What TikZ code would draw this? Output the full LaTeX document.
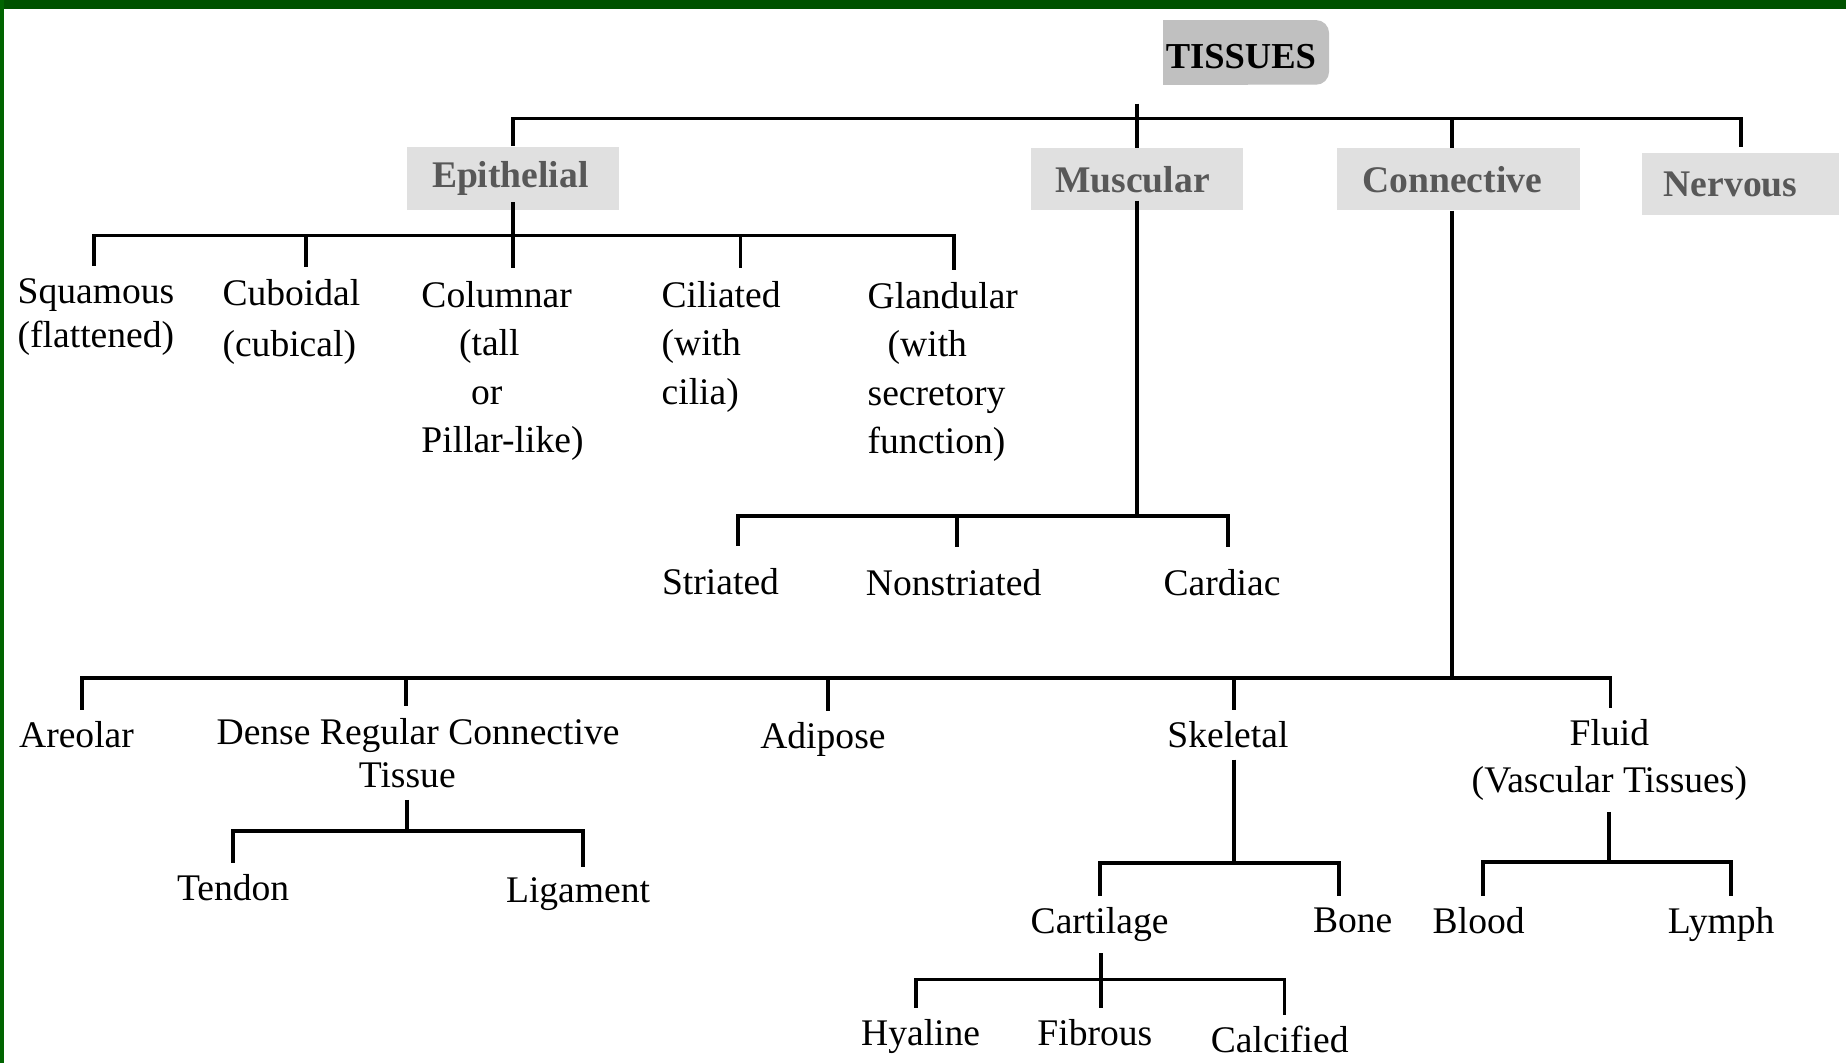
\documentclass[tikz,border=0pt]{standalone}
\usepackage{fontspec}
\setmainfont{Liberation Serif}
\definecolor{topgreen}{RGB}{0,82,0}
\definecolor{leftgreen}{RGB}{0,100,0}
\definecolor{hfill}{RGB}{224,224,224}
\definecolor{tfill}{RGB}{192,192,192}
\definecolor{htext}{RGB}{88,88,88}
\begin{document}
\begin{tikzpicture}[x=0.011773cm,y=-0.011773cm,
  conn/.style={line width=1.1pt, black},
  txt/.style={inner sep=0pt, outer xsep=0pt, outer ysep=3.3pt, text=black,
    font=\fontsize{10.7}{13.8}\selectfont},
  hbox/.style={fill=hfill, inner sep=0pt, text=htext,
    font=\fontsize{10.7}{13}\selectfont\bfseries},
  tisbox/.style={fill=tfill, rounded corners=3.7pt, inner sep=0pt, text=black,
    font=\fontsize{10.4}{12}\selectfont\bfseries}]
\useasboundingbox (0,0) rectangle (1568,903);
\fill[white] (0,0) rectangle (1568,903);
\fill[topgreen] (0,0) rectangle (1568,7.6);
\fill[leftgreen] (0,0) rectangle (3.1,903);

% root
\fill[tfill] (988,17) rectangle (1060,72);
\node[tisbox, minimum width=47.2pt, minimum height=18.4pt, text height=9.3pt, text depth=0pt] (tis) at (1058.5,44.5) {TISSUES\kern3pt};

% header boxes
\node[hbox, minimum width=60.3pt, minimum height=17.9pt] (epi) at (436,151.3) {Epithelial\kern1.7pt};
\node[hbox, minimum width=60.3pt, minimum height=17.6pt] (mus) at (966,152.3) {Muscular\kern2.7pt};
\node[hbox, minimum width=69pt, minimum height=17.6pt] (con) at (1239,152.2) {Connective\kern3.7pt};
\node[hbox, minimum width=55.9pt, minimum height=17.6pt] (ner) at (1478.5,156.3) {Nervous\kern5.7pt};

% epithelial children
\node[txt, outer ysep=3.6pt, anchor=north west, align=left, font=\fontsize{10.7}{12.5}\selectfont] (squ) at (15,226) {Squamous\\(flattened)};
\node[txt, outer ysep=3.6pt, anchor=north west, align=left, font=\fontsize{10.7}{14.3}\selectfont] (cub) at (189,227) {Cuboidal\\(cubical)};
\node[txt, outer ysep=3.6pt, anchor=north west, align=left] (col) at (358,228) {Columnar\\\hspace*{10.7pt}(tall\\\hspace*{14.1pt}or\\Pillar-like)};
\node[txt, outer ysep=3.6pt, anchor=north west, align=left] (cil) at (562,228) {Ciliated\\(with\\cilia)};
\node[txt, outer ysep=3.6pt, anchor=north west, align=left] (gla) at (737,229) {Glandular\\\hspace*{5.7pt}(with\\secretory\\function)};

% muscular children
\node[txt, outer ysep=6.2pt, anchor=north] (str) at (612,464) {Striated};
\node[txt, outer ysep=6.2pt, anchor=north] (nst) at (810,465) {Nonstriated};
\node[txt, outer ysep=6.2pt, anchor=north] (crd) at (1038,465) {Cardiac};

% connective children
\node[txt, anchor=north] (are) at (65,603) {Areolar};
\node[txt, anchor=north west, align=left, font=\fontsize{10.7}{12.5}\selectfont] (den) at (184,600) {Dense Regular Connective\\\hspace*{40.5pt}Tissue};
\node[txt, anchor=north] (adi) at (699,604) {Adipose};
\node[txt, anchor=north] (ske) at (1043,603) {Skeletal};
\node[txt, anchor=north, align=center, font=\fontsize{10.7}{13.4}\selectfont] (flu) at (1367,601) {Fluid\\(Vascular Tissues)};

\node[txt, anchor=north] (ten) at (198,733) {Tendon};
\node[txt, anchor=north] (lig) at (491,736) {Ligament};
\node[txt, anchor=north] (cart) at (934,761) {Cartilage};
\node[txt, anchor=north] (bon) at (1149,761) {Bone};
\node[txt, anchor=north] (blo) at (1256,761) {Blood};
\node[txt, anchor=north] (lym) at (1462,761) {Lymph};
\node[txt, anchor=north] (hya) at (782,856) {Hyaline};
\node[txt, anchor=north] (fib) at (930,856) {Fibrous};
\node[txt, anchor=north] (cal) at (1087,862) {Calcified};

% connectors
\coordinate (tstub) at (966,88);
\coordinate (tb) at (966,100.6);
\coordinate (nerTop) at ([yshift=1.4pt]ner.north);
\draw[conn] (tstub) -- (tb);
\draw[conn] (tb) -| (epi.north);
\draw[conn] (tb) -| (nerTop);
\draw[conn] (tb) -| (con.north -| 1233,0);
\draw[conn] (tb) -- (mus.north);

\coordinate (eb) at (436,200);
\draw[conn] ([yshift=2.3pt]epi.south) -- (eb);
\draw[conn] (eb) -| (squ.north -| 80,0);
\draw[conn] (eb) -| (cub.north -| 260,0);
\draw[conn] (eb) -- (col.north -| 436,0);
\draw[conn] (eb) -| (cil.north -| 629,0);
\draw[conn] (eb) -| (gla.north -| 810,0);

\coordinate (mb) at (966,438);
\draw[conn] ([yshift=2.9pt]mus.south) -- (mb);
\draw[conn] (mb) -| (str.north -| 627,0);
\draw[conn] (mb) -| (nst.north -| 813,0);
\draw[conn] (mb) -| (crd.north -| 1043,0);

\coordinate (cb) at (1233,576);
\draw[conn] (con.south -| 1233,0) -- (cb);
\draw[conn] (cb) -| (are.north -| 70,0);
\draw[conn] (cb) -| (den.north -| 345,0);
\draw[conn] (cb) -| (adi.north -| 703,0);
\draw[conn] (cb) -| (ske.north -| 1048,0);
\draw[conn] (cb) -| (flu.north -| 1368,0);

\coordinate (db) at (346,706);
\draw[conn] (den.south -| 346,0) -- (db);
\draw[conn] (db) -| (ten.north -| 198,0);
\draw[conn] (db) -| (lig.north -| 495,0);

\coordinate (sb) at (1048,733);
\draw[conn] (ske.south -| 1048,0) -- (sb);
\draw[conn] (sb) -| (cart.north -| 934,0);
\draw[conn] (sb) -| (bon.north -| 1137,0);

\coordinate (cab) at (935,832);
\draw[conn] (cart.south -| 935,0) -- (cab);
\draw[conn] (cab) -| (hya.north -| 778,0);
\draw[conn] (cab) -- (fib.north -| 935,0);
\draw[conn] (cab) -| (cal.north -| 1091,0);

\coordinate (fb) at (1367,732);
\draw[conn] (flu.south -| 1367,0) -- (fb);
\draw[conn] (fb) -| (blo.north -| 1260,0);
\draw[conn] (fb) -| (lym.north -| 1470,0);
\end{tikzpicture}
\end{document}
